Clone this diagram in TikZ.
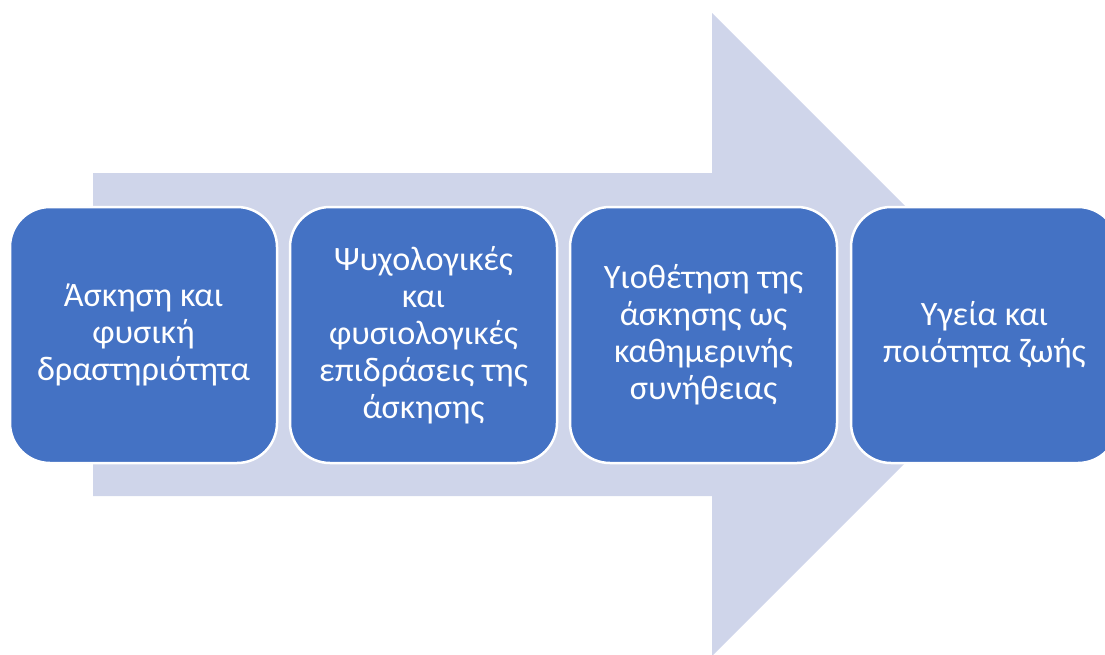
\documentclass[tikz,border=0pt]{standalone}
\usepackage{fontspec}
\setmainfont{Carlito}
\definecolor{boxblue}{HTML}{4472C4}
\definecolor{arrowfill}{HTML}{CFD5EA}
\begin{document}
\begin{tikzpicture}[x=1pt,y=-1pt,
  stepbox/.style={draw=white, line width=2.5pt, fill=boxblue, rounded corners=40pt,
    minimum width=267pt, minimum height=256pt, inner sep=0pt, text=white, align=center,
    font=\fontsize{34.2}{37}\selectfont}]
\useasboundingbox (0,0) rectangle (1105,654);
\fill[arrowfill] (93,173) -- (712,173) -- (712,13) -- (1033.5,334.5) -- (712,656) -- (712,496) -- (93,496) -- cycle;
\node[stepbox] (s1) at (143.5,335) {Άσκηση και\\φυσική\\δραστηριότητα};
\node[stepbox] (s2) at (423.5,335) {Ψυχολογικές\\και\\φυσιολογικές\\επιδράσεις της\\άσκησης};
\node[stepbox] (s3) at (703.5,335) {Υιοθέτηση της\\άσκησης ως\\καθημερινής\\συνήθειας};
\node[stepbox] (s4) at (984.5,335) {Υγεία και\\ποιότητα ζωής};
\end{tikzpicture}
\end{document}
